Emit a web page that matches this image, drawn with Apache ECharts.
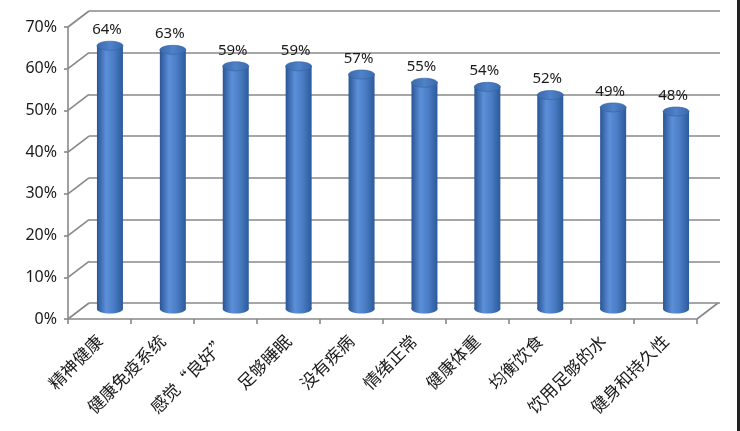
<!DOCTYPE html>
<html>
<head>
<meta charset="utf-8">
<script src="https://cdn.jsdelivr.net/npm/echarts@6/dist/echarts.min.js"></script>
<style>
html,body{margin:0;padding:0;background:#fff;}
#chart{width:740px;height:431px;}
</style>
</head>
<body>
<div id="chart"></div>
<script>
const categories = ['精神健康','健康免疫系统','感觉“良好”','足够睡眠','没有疾病','情绪正常','健康体重','均衡饮食','饮用足够的水','健身和持久性'];
const values = [64, 63, 59, 59, 57, 55, 54, 52, 49, 48];
const yTicks = [0, 10, 20, 30, 40, 50, 60, 70];

const GRAY = '#888888';
const DX = 21, DY = -16;

const chart = echarts.init(document.getElementById('chart'));

const bodyGrad = () => new echarts.graphic.LinearGradient(0, 0, 1, 0, [
  {offset: 0, color: '#2a5595'},
  {offset: 0.35, color: '#5b8fd8'},
  {offset: 0.65, color: '#4a7dc5'},
  {offset: 1, color: '#2c5a9b'}
]);
const topGrad = () => new echarts.graphic.LinearGradient(0, 0, 1, 0, [
  {offset: 0, color: '#3a68ad'},
  {offset: 0.5, color: '#4f82c8'},
  {offset: 1, color: '#3a68ad'}
]);

chart.setOption({
  animation: false,
  backgroundColor: '#fff',
  grid: [
    {left: 89, top: 11, width: 631, height: 292},
    {left: 68, top: 27, width: 629, height: 292},
    {left: 78.5, top: 21, width: 629, height: 288}
  ],
  xAxis: [
    {gridIndex: 0, type: 'category', data: categories, show: false},
    {gridIndex: 1, type: 'category', data: categories,
     axisLine: {show: true, lineStyle: {color: GRAY, width: 1.6}},
     axisTick: {show: true, length: 5, lineStyle: {color: GRAY, width: 1.6}},
     axisLabel: {interval: 0, rotate: 45, margin: 19, fontSize: 17,
                 fontFamily: 'Noto Sans CJK SC', color: '#1a1a1a'}},
    {gridIndex: 2, type: 'category', data: categories, show: false}
  ],
  yAxis: [
    {gridIndex: 0, type: 'value', min: 0, max: 70, interval: 10,
     axisLine: {show: false}, axisTick: {show: false}, axisLabel: {show: false},
     splitLine: {show: true, lineStyle: {color: GRAY, width: 1.6}}},
    {gridIndex: 1, type: 'value', min: 0, max: 70, interval: 10,
     axisLine: {show: true, lineStyle: {color: GRAY, width: 1.6}},
     axisTick: {show: true, length: 4, lineStyle: {color: GRAY, width: 1.6}},
     splitLine: {show: false},
     axisLabel: {formatter: '{value}%', fontSize: 16, margin: 11,
                 fontFamily: 'Noto Sans', color: '#1a1a1a'}},
    {gridIndex: 2, type: 'value', min: 0, max: 70, interval: 10, show: false}
  ],
  series: [
    {
      type: 'custom', xAxisIndex: 1, yAxisIndex: 1, silent: true,
      data: yTicks.map(v => [0, v]),
      renderItem: function (params, api) {
        const cs = params.coordSys;
        const y = api.coord([0, api.value(1)])[1];
        const children = [{
          type: 'line',
          shape: {x1: cs.x, y1: y, x2: cs.x + DX, y2: y + DY},
          style: {stroke: GRAY, lineWidth: 1.6}
        }];
        if (api.value(1) === 0) {
          children.push({
            type: 'line',
            shape: {x1: cs.x + cs.width, y1: y, x2: cs.x + cs.width + DX, y2: y + DY},
            style: {stroke: GRAY, lineWidth: 1.6}
          });
        }
        return {type: 'group', children: children};
      }
    },
    {
      type: 'custom', xAxisIndex: 2, yAxisIndex: 2, silent: true,
      data: values.map((v, i) => [i, v]),
      renderItem: function (params, api) {
        const top = api.coord([api.value(0), api.value(1)]);
        const base = api.coord([api.value(0), 0]);
        const rx = 13, ry = 4.5;
        const cx = top[0];
        return {
          type: 'group',
          children: [
            {type: 'ellipse', shape: {cx: cx, cy: base[1], rx: rx, ry: ry},
             style: {fill: bodyGrad()}},
            {type: 'rect', shape: {x: cx - rx, y: top[1], width: rx * 2, height: base[1] - top[1]},
             style: {fill: bodyGrad()}},
            {type: 'ellipse', shape: {cx: cx, cy: top[1], rx: rx, ry: ry},
             style: {fill: topGrad(), stroke: '#35629f', lineWidth: 0.6}},
            {type: 'text', x: cx - 3, y: top[1] - ry - 4,
             style: {text: api.value(1) + '%', fill: '#1a1a1a', fontSize: 15,
                     fontFamily: 'Noto Sans', align: 'center', verticalAlign: 'bottom'}}
          ]
        };
      }
    }
  ],
  graphic: [
    {type: 'rect', right: 0, top: 0, shape: {width: 3, height: 431}, style: {fill: '#222'}}
  ]
});
</script>
</body>
</html>
